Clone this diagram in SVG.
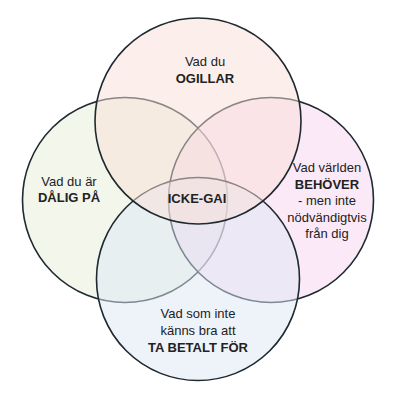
<svg xmlns="http://www.w3.org/2000/svg" width="400" height="400" viewBox="0 0 400 400">
<style>
.c{stroke:#1e2a30;stroke-width:1.6;fill-opacity:0.5}
text{font-family:"Liberation Sans",Arial,sans-serif;font-size:13px;fill:#222;text-anchor:middle}
.b{font-weight:bold}
</style>
<rect width="400" height="400" fill="#ffffff"/>
<g id="circle-left"><circle class="c" cx="125" cy="200" r="102.5" fill="#e6eed8"/></g>
<g id="circle-right"><circle class="c" cx="271" cy="200" r="102.5" fill="#f7d4ef"/></g>
<g id="circle-bottom"><circle class="c" cx="198" cy="279" r="101.5" fill="#dde7f5"/></g>
<g id="circle-top"><circle class="c" cx="198" cy="121" r="103" fill="#f9e0d8"/></g>
<g id="label-top"><text x="205" y="66">Vad du</text><text class="b" x="205" y="83">OGILLAR</text></g>
<g id="label-left"><text x="69" y="186">Vad du är</text><text class="b" x="69" y="202">DÅLIG PÅ</text></g>
<g id="label-right"><text x="327" y="172">Vad världen</text><text class="b" x="327" y="189">BEHÖVER</text><text x="327" y="205">- men inte</text><text x="327" y="222">nödvändigtvis</text><text x="327" y="238">från dig</text></g>
<g id="label-bottom"><text x="198" y="318">Vad som inte</text><text x="198" y="335">känns bra att</text><text class="b" x="198" y="352">TA BETALT FÖR</text></g>
<g id="label-center"><text class="b" x="197" y="203">ICKE-GAI</text></g>
<g id="connectors"/>
</svg>
